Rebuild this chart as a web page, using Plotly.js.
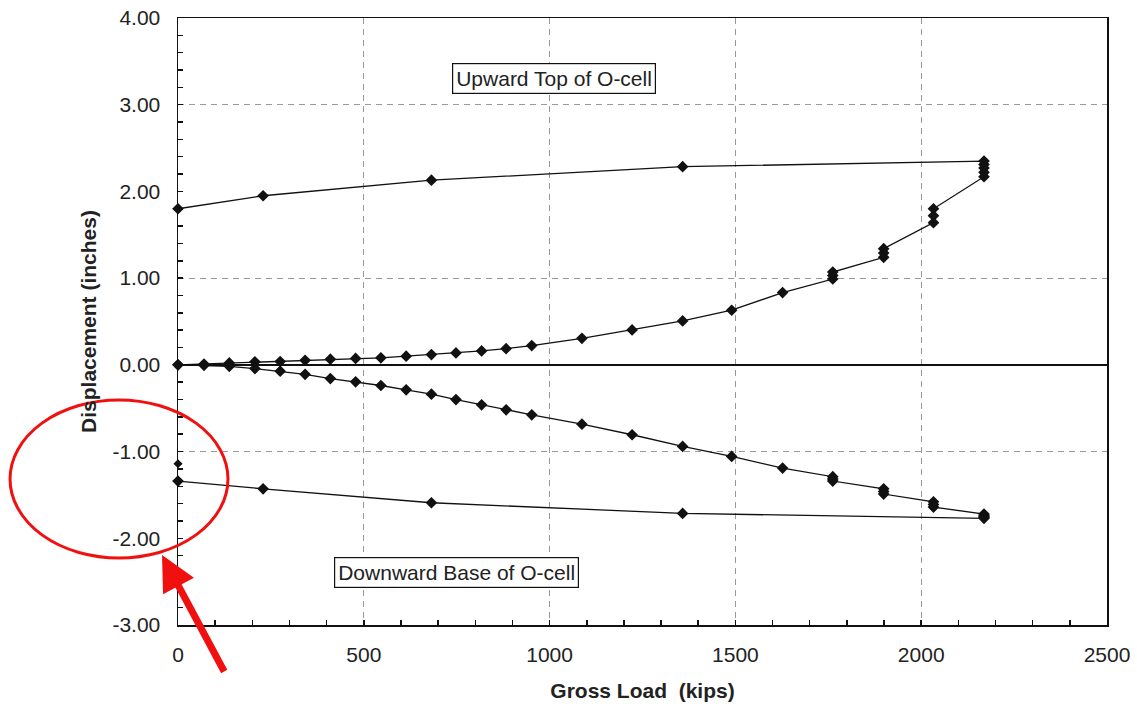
<!DOCTYPE html>
<html>
<head>
<meta charset="utf-8">
<script src="https://cdn.plot.ly/plotly-3.0.1.min.js"></script>
<style>html,body{margin:0;padding:0;background:#fff;}#chart{width:1137px;height:704px;}</style>
</head>
<body>
<div id="chart"></div>
<script>
// Gross load (kips) for each reading: loading, holds, then unloading
const grossLoad = [0, 70, 138, 207, 275, 342, 410, 478, 546, 614, 682, 748, 817, 883, 952,
  1087, 1222, 1358, 1490, 1627,
  1762, 1762, 1762, 1899, 1899, 1899, 2033, 2033, 2033,
  2169, 2169, 2169, 2169, 2169,
  1358, 682, 229, 0];
// Upward movement of top of O-cell (inches)
const upwardTop = [0, 0.01, 0.022, 0.035, 0.039, 0.052, 0.065, 0.074, 0.081, 0.10, 0.119, 0.138, 0.161, 0.187, 0.222,
  0.306, 0.403, 0.507, 0.63, 0.834,
  0.99, 1.03, 1.07, 1.24, 1.29, 1.34, 1.64, 1.72, 1.80,
  2.17, 2.22, 2.27, 2.31, 2.35,
  2.285, 2.13, 1.95, 1.80];
// Downward movement of base of O-cell (inches)
const downwardBase = [0, -0.005, -0.017, -0.043, -0.073, -0.109, -0.158, -0.196, -0.238, -0.288, -0.338, -0.40, -0.461, -0.518, -0.576,
  -0.684, -0.806, -0.941, -1.056, -1.19,
  -1.29, -1.315, -1.34, -1.43, -1.46, -1.49, -1.58, -1.61, -1.64,
  -1.72, -1.735, -1.75, -1.76, -1.77,
  -1.713, -1.59, -1.43, -1.34];
// Final rebound reading of the base at zero load
const reboundLoad = [0];
const reboundBase = [-1.14];

const yTickVals = [-3, -2, -1, 0, 1, 2, 3, 4];
const yTickText = ['-3.00', '-2.00', '-1.00', '0.00', '1.00', '2.00', '3.00', '4.00'];
const yGridVals = [-1, 1, 3];
const labelUp = 'Upward Top of O-cell';
const labelDown = 'Downward Base of O-cell';

// minor tick positions every 0.2 inch along the y axis
const yMinorVals = [];
for (let i = -15; i <= 20; i++) { yMinorVals.push(i / 5); }

const font = 'Liberation Sans, Arial, sans-serif';
const fs = 21;
const lineStyle = {color: '#111', width: 1.3};
const markerStyle = {symbol: 'diamond', size: 9, color: '#111'};

const traces = [
  {x: grossLoad, y: upwardTop, mode: 'lines+markers', line: lineStyle, marker: markerStyle, cliponaxis: false, showlegend: false},
  {x: grossLoad, y: downwardBase, mode: 'lines+markers', line: lineStyle, marker: markerStyle, cliponaxis: false, showlegend: false},
  {x: reboundLoad, y: reboundBase, mode: 'markers', marker: {symbol: 'diamond', size: 7, color: '#111'}, cliponaxis: false, showlegend: false},
  {x: [], y: [], yaxis: 'y2', showlegend: false, hoverinfo: 'skip'}
];

const layout = {
  width: 1137, height: 704,
  margin: {l: 178, r: 30, t: 18, b: 79},
  paper_bgcolor: '#fff', plot_bgcolor: '#fff',
  font: {family: font, size: fs, color: '#222'},
  showlegend: false,
  xaxis: {
    range: [0, 2500], tickmode: 'linear', tick0: 0, dtick: 500,
    ticks: 'inside', ticklen: 5, tickwidth: 1.5, tickcolor: '#111',
    minor: {tickmode: 'linear', tick0: 0, dtick: 100, ticks: 'inside', ticklen: 5, tickwidth: 1.5, tickcolor: '#111', showgrid: false},
    showline: true, linecolor: '#111', linewidth: 1.5, mirror: true,
    showgrid: true, gridcolor: '#999', griddash: '6px,5px', gridwidth: 1,
    zeroline: false,
    ticklabelstandoff: 10,
    tickfont: {size: fs, color: '#222'},
    title: {text: 'Gross Load  (kips)', font: {size: fs, color: '#222', family: font, weight: 'bold'}, standoff: 18}
  },
  yaxis: {
    range: [-3, 4], tickmode: 'array', tickvals: yTickVals, ticktext: yTickText,
    ticks: 'inside', ticklen: 5, tickwidth: 1.5, tickcolor: '#111',
    minor: {tickmode: 'array', tickvals: yMinorVals, ticks: 'inside', ticklen: 5, tickwidth: 1.5, tickcolor: '#111', showgrid: false},
    showline: true, linecolor: '#111', linewidth: 1.5, mirror: true,
    showgrid: false,
    zeroline: true, zerolinecolor: '#111', zerolinewidth: 1.6,
    ticklabelstandoff: 12,
    tickfont: {size: fs, color: '#222'},
    title: {text: 'Displacement (inches)', font: {size: fs, color: '#222', family: font, weight: 'bold'}, standoff: 10}
  },
  yaxis2: {
    range: [-3, 4], overlaying: 'y', side: 'left', tickmode: 'array', tickvals: yGridVals,
    showticklabels: false, ticks: '', showline: false, zeroline: false,
    showgrid: true, gridcolor: '#999', griddash: '6px,5px', gridwidth: 1
  },
  annotations: [
    {x: 1012, y: 3.3, xref: 'x', yref: 'y', text: labelUp, showarrow: false,
     font: {size: fs, color: '#222', family: font}, bordercolor: '#111', borderwidth: 1.2, borderpad: 3, bgcolor: '#fff'},
    {x: 750, y: -2.4, xref: 'x', yref: 'y', text: labelDown, showarrow: false,
     font: {size: fs, color: '#222', family: font}, bordercolor: '#111', borderwidth: 1.2, borderpad: 3, bgcolor: '#fff'},
    {x: -0.0172, y: 0.1153, xref: 'paper', yref: 'paper', text: '', showarrow: true,
     ax: 63, ay: 118, arrowhead: 2, arrowsize: 1, arrowwidth: 7, arrowcolor: '#f01010', standoff: 0, startstandoff: 0}
  ],
  shapes: [
    {type: 'circle', xref: 'paper', yref: 'paper', x0: -0.1808, x1: 0.0538, y0: 0.1104, y1: 0.3707,
     line: {color: '#f01010', width: 3}, fillcolor: 'rgba(0,0,0,0)'}
  ]
};

Plotly.newPlot('chart', traces, layout, {staticPlot: true, displayModeBar: false});
</script>
</body>
</html>
